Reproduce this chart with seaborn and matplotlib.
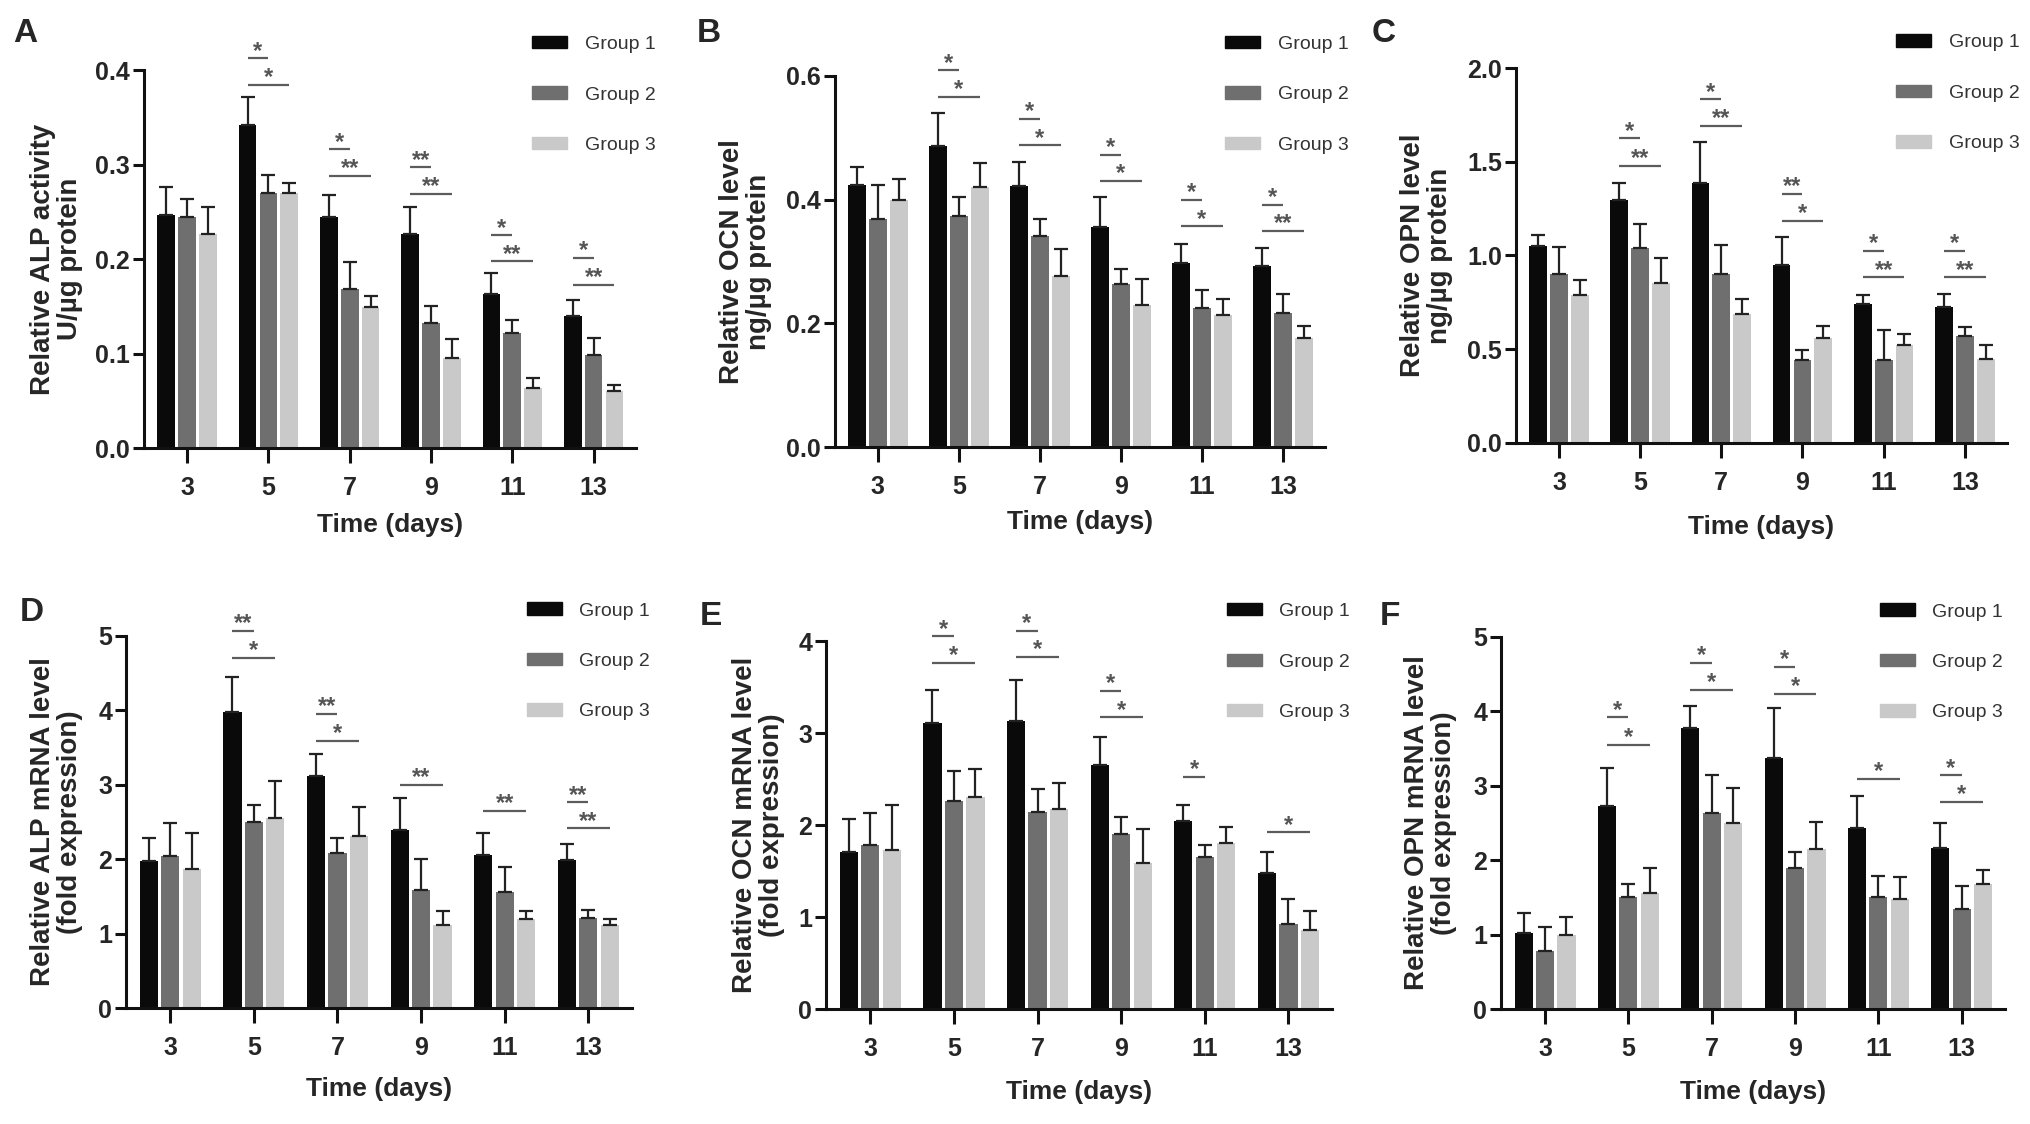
import numpy as np
import pandas as pd
import seaborn as sns
import matplotlib.pyplot as plt

sns.set_style("ticks")
plt.rcParams["font.family"] = ["Liberation Sans", "DejaVu Sans"]

# ---------- data ----------
days = ["3", "5", "7", "9", "11", "13"]
groups = ["Group 1", "Group 2", "Group 3"]
bar_colors = ["#0a0a0a", "#6f6f6f", "#c9c9c9"]

# means (per group, per day) and upper error (SD)
alp_act_mean = [[0.247, 0.342, 0.244, 0.226, 0.163, 0.140],
                [0.244, 0.270, 0.168, 0.132, 0.122, 0.098],
                [0.227, 0.270, 0.149, 0.095, 0.064, 0.060]]
alp_act_sd = [[0.029, 0.029, 0.024, 0.029, 0.022, 0.017],
              [0.019, 0.019, 0.029, 0.018, 0.014, 0.018],
              [0.028, 0.010, 0.012, 0.020, 0.010, 0.007]]

ocn_lvl_mean = [[0.424, 0.487, 0.422, 0.355, 0.297, 0.292],
                [0.368, 0.374, 0.342, 0.264, 0.224, 0.217],
                [0.400, 0.421, 0.277, 0.229, 0.214, 0.176]]
ocn_lvl_sd = [[0.029, 0.053, 0.039, 0.049, 0.032, 0.030],
              [0.056, 0.030, 0.027, 0.024, 0.030, 0.031],
              [0.034, 0.038, 0.043, 0.043, 0.026, 0.020]]

opn_lvl_mean = [[1.051, 1.296, 1.384, 0.947, 0.741, 0.727],
                [0.900, 1.039, 0.903, 0.440, 0.440, 0.570],
                [0.790, 0.852, 0.689, 0.561, 0.523, 0.446]]
opn_lvl_sd = [[0.059, 0.088, 0.220, 0.150, 0.048, 0.067],
              [0.147, 0.127, 0.155, 0.058, 0.163, 0.046],
              [0.081, 0.137, 0.077, 0.061, 0.057, 0.077]]

alp_mrna_mean = [[1.97, 3.98, 3.12, 2.39, 2.05, 1.99],
                 [2.04, 2.50, 2.08, 1.58, 1.56, 1.21],
                 [1.87, 2.56, 2.31, 1.12, 1.20, 1.11]]
alp_mrna_sd = [[0.31, 0.47, 0.30, 0.43, 0.30, 0.22],
               [0.44, 0.23, 0.21, 0.42, 0.33, 0.11],
               [0.48, 0.49, 0.39, 0.18, 0.10, 0.09]]

ocn_mrna_mean = [[1.71, 3.11, 3.13, 2.65, 2.04, 1.48],
                 [1.78, 2.26, 2.14, 1.90, 1.65, 0.92],
                 [1.73, 2.30, 2.17, 1.59, 1.80, 0.86]]
ocn_mrna_sd = [[0.35, 0.36, 0.45, 0.31, 0.18, 0.23],
               [0.35, 0.33, 0.25, 0.19, 0.13, 0.28],
               [0.49, 0.31, 0.29, 0.37, 0.18, 0.21]]

opn_mrna_mean = [[1.02, 2.73, 3.78, 3.37, 2.43, 2.17],
                 [0.78, 1.51, 2.63, 1.90, 1.50, 1.34],
                 [0.99, 1.56, 2.50, 2.15, 1.48, 1.68]]
opn_mrna_sd = [[0.27, 0.51, 0.29, 0.67, 0.43, 0.33],
               [0.32, 0.17, 0.52, 0.21, 0.29, 0.31],
               [0.24, 0.33, 0.47, 0.36, 0.29, 0.19]]

# significance marks: (day index, compared group, label, line height)
alp_act_sig = [(1, 1, "*", 0.4125), (1, 2, "*", 0.384), (2, 1, "*", 0.316), (2, 2, "**", 0.288),
               (3, 1, "**", 0.297), (3, 2, "**", 0.269), (4, 1, "*", 0.225), (4, 2, "**", 0.1975),
               (5, 1, "*", 0.201), (5, 2, "**", 0.173)]
ocn_lvl_sig = [(1, 1, "*", 0.609), (1, 2, "*", 0.566), (2, 1, "*", 0.531), (2, 2, "*", 0.488),
               (3, 1, "*", 0.472), (3, 2, "*", 0.430), (4, 1, "*", 0.400), (4, 2, "*", 0.357),
               (5, 1, "*", 0.392), (5, 2, "**", 0.350)]
opn_lvl_sig = [(1, 1, "*", 1.625), (1, 2, "**", 1.479), (2, 1, "*", 1.833), (2, 2, "**", 1.690),
               (3, 1, "**", 1.330), (3, 2, "*", 1.185), (4, 1, "*", 1.024), (4, 2, "**", 0.884),
               (5, 1, "*", 1.024), (5, 2, "**", 0.884)]
alp_mrna_sig = [(1, 1, "**", 5.07), (1, 2, "*", 4.71), (2, 1, "**", 3.95), (2, 2, "*", 3.59),
                (3, 2, "**", 3.00), (4, 2, "**", 2.645), (5, 1, "**", 2.765), (5, 2, "**", 2.413)]
ocn_mrna_sig = [(1, 1, "*", 4.05), (1, 2, "*", 3.76), (2, 1, "*", 4.11), (2, 2, "*", 3.83),
                (3, 1, "*", 3.46), (3, 2, "*", 3.17), (4, 1, "*", 2.525), (5, 2, "*", 1.92)]
opn_mrna_sig = [(1, 1, "*", 3.92), (1, 2, "*", 3.55), (2, 1, "*", 4.65), (2, 2, "*", 4.29),
                (3, 1, "*", 4.60), (3, 2, "*", 4.24), (4, 2, "*", 3.09), (5, 1, "*", 3.14),
                (5, 2, "*", 2.78)]

panels = [
    dict(letter="A", mean=alp_act_mean, sd=alp_act_sd, sig=alp_act_sig,
         ylabel="Relative ALP activity\nU/µg protein", yticks=[0, 0.1, 0.2, 0.3, 0.4], fmt="{:.1f}",
         rect=[0.0709, 0.6014, 0.2422, 0.3363], ylc=-0.124, xlc=-0.172, leg=(0.789, 1.09),
         lpos=(13, 18)),
    dict(letter="B", mean=ocn_lvl_mean, sd=ocn_lvl_sd, sig=ocn_lvl_sig,
         ylabel="Relative OCN level\nng/µg protein", yticks=[0, 0.2, 0.4, 0.6], fmt="{:.1f}",
         rect=[0.4111, 0.6023, 0.2413, 0.3301], ylc=-0.129, xlc=-0.17, leg=(0.796, 1.108),
         lpos=(697, 18)),
    dict(letter="C", mean=opn_lvl_mean, sd=opn_lvl_sd, sig=opn_lvl_sig,
         ylabel="Relative OPN level\nng/µg protein", yticks=[0, 0.5, 1.0, 1.5, 2.0], fmt="{:.1f}",
         rect=[0.7464, 0.6059, 0.2418, 0.3336], ylc=-0.128, xlc=-0.192, leg=(0.774, 1.09),
         lpos=(1372, 18)),
    dict(letter="D", mean=alp_mrna_mean, sd=alp_mrna_sd, sig=alp_mrna_sig,
         ylabel="Relative ALP mRNA level\n(fold expression)", yticks=[0, 1, 2, 3, 4, 5], fmt="{:.0f}",
         rect=[0.0620, 0.1032, 0.2491, 0.3310], ylc=-0.085, xlc=-0.185, leg=(0.792, 1.09),
         lpos=(20, 597)),
    dict(letter="E", mean=ocn_mrna_mean, sd=ocn_mrna_sd, sig=ocn_mrna_sig,
         ylabel="Relative OCN mRNA level\n(fold expression)", yticks=[0, 1, 2, 3, 4], fmt="{:.0f}",
         rect=[0.4067, 0.1023, 0.2491, 0.3274], ylc=-0.081, xlc=-0.193, leg=(0.792, 1.103),
         lpos=(700, 601)),
    dict(letter="F", mean=opn_mrna_mean, sd=opn_mrna_sd, sig=opn_mrna_sig,
         ylabel="Relative OPN mRNA level\n(fold expression)", yticks=[0, 1, 2, 3, 4, 5], fmt="{:.0f}",
         rect=[0.7390, 0.1023, 0.2482, 0.3310], ylc=-0.087, xlc=-0.19, leg=(0.752, 1.09),
         lpos=(1380, 601)),
]

W, H = 2031, 1124
fig = plt.figure(figsize=(W / 100, H / 100), dpi=100)

for p in panels:
    ax = fig.add_axes(p["rect"])
    df = pd.DataFrame({
        "day": np.tile(days, len(groups)),
        "group": np.repeat(groups, len(days)),
        "value": np.ravel(p["mean"]),
    })
    sns.barplot(data=df, x="day", y="value", hue="group", order=days, hue_order=groups,
                palette=bar_colors, width=0.77, gap=0.15, errorbar=None, saturation=1,
                linewidth=0, ax=ax, legend=False)
    bars = list(ax.containers)

    # upper-only error bars at the bar centres
    for gi, cont in enumerate(bars):
        xs = [b.get_x() + b.get_width() / 2 for b in cont]
        ys = [b.get_height() for b in cont]
        ax.errorbar(xs, ys, yerr=[np.zeros(len(ys)), p["sd"][gi]], fmt="none",
                    ecolor="#222222", elinewidth=1.6, capsize=5, capthick=1.6, zorder=3)

    # significance lines
    for di, gj, lab, yy in p["sig"]:
        b0 = bars[0][di]
        b1 = bars[gj][di]
        x0 = b0.get_x() + b0.get_width() / 2
        x1 = b1.get_x() + b1.get_width() / 2
        ax.plot([x0, x1], [yy, yy], color="#5c5c5c", lw=1.6, clip_on=False,
                solid_capstyle="butt")
        ax.annotate(lab, ((x0 + x1) / 2, yy), xytext=(0, 0.5), textcoords="offset points",
                    ha="center", va="baseline", fontsize=17, fontweight="bold",
                    color="#555555", annotation_clip=False)

    ax.set_xlim(-0.53, 5.52)
    ax.set_ylim(0, p["yticks"][-1])
    ax.set_yticks(p["yticks"])
    ax.set_yticklabels([p["fmt"].format(t) for t in p["yticks"]])
    sns.despine(ax=ax)
    for s in ["left", "bottom"]:
        ax.spines[s].set_linewidth(2.2)
        ax.spines[s].set_color("#111111")
    ax.tick_params(axis="x", length=11, width=2.2, pad=9, labelsize=18, color="#111111")
    ax.tick_params(axis="y", length=8, width=2.2, pad=2, labelsize=18, color="#111111")
    for t in ax.get_xticklabels() + ax.get_yticklabels():
        t.set_fontweight("bold")

    ax.set_xlabel("Time (days)", fontsize=19, fontweight="bold")
    ax.set_ylabel(p["ylabel"], fontsize=20, fontweight="bold", linespacing=1.05)
    ax.xaxis.set_label_coords(0.5, p["xlc"])
    ax.yaxis.set_label_coords(p["ylc"], 0.5)

    handles = [plt.Rectangle((0, 0), 1, 1, color=c) for c in bar_colors]
    ax.legend(handles, groups, loc="upper left", bbox_to_anchor=p["leg"], frameon=False,
              fontsize=14, handlelength=1.8, handleheight=0.6, labelspacing=1.72,
              handletextpad=0.9, borderpad=0, borderaxespad=0, labelcolor="#333333")

    fig.text(p["lpos"][0] / W, 1 - p["lpos"][1] / H, p["letter"], fontsize=24,
             fontweight="bold", ha="left", va="top")

fig.savefig("out.png", dpi=100)
